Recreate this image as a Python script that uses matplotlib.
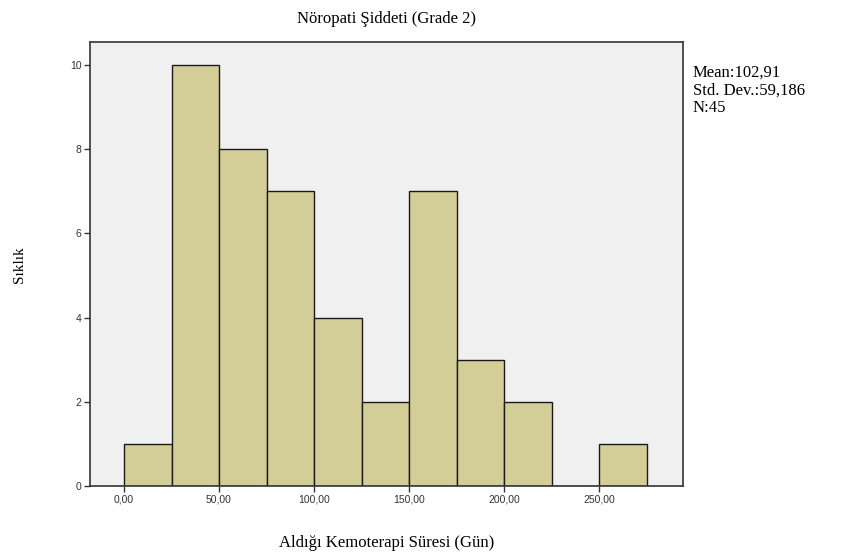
import numpy as np
import matplotlib.pyplot as plt

bin_starts = [0, 25, 50, 75, 100, 125, 150, 175, 200, 225, 250]
counts = [1, 10, 8, 7, 4, 2, 7, 3, 2, 0, 1]
bin_width = 25
xticks = [0, 50, 100, 150, 200, 250]
xtick_labels = ['0,00', '50,00', '100,00', '150,00', '200,00', '250,00']
yticks = [0, 2, 4, 6, 8, 10]
stats = ['Mean:102,91', 'Std. Dev.:59,186', 'N:45']

serif = 'Liberation Serif'
sans = 'Liberation Sans'

fig = plt.figure(figsize=(8.53, 5.57), dpi=100)
ax = fig.add_axes([0.1055, 0.1275, 0.6952, 0.7971])
ax.set_facecolor('#f0f0f0')

ax.bar(bin_starts, counts, width=bin_width, align='edge',
       color='#d3ce97', edgecolor='#1a1a1a', linewidth=1.0)

ax.set_xlim(-17.9, 294.2)
ax.set_ylim(0, 10.55)
ax.set_xticks(xticks)
ax.set_xticklabels(xtick_labels, fontfamily=sans, fontsize=7.5, color='#333333')
ax.set_yticks(yticks)
ax.set_yticklabels([str(v) for v in yticks], fontfamily=sans, fontsize=7.5, color='#333333')
ax.tick_params(direction='out', length=4, width=1, color='#333333', pad=2)
for s in ax.spines.values():
    s.set_color('#333333')
    s.set_linewidth(1.2)

ax.set_title('Nöropati Şiddeti (Grade 2)', fontfamily=serif, fontsize=12, pad=14)
ax.set_xlabel('Aldığı Kemoterapi Süresi (Gün)', fontfamily=serif, fontsize=12, labelpad=22)
fig.text(20 / 853, 1 - 265 / 557, 'Sıklık', fontfamily=serif, fontsize=11,
         rotation=90, ha='center', va='center')

fig.text(0.812, 0.884, '\n'.join(stats), fontfamily=serif, fontsize=12,
         va='top', ha='left', linespacing=1.15)

fig.savefig('out.png', dpi=100)
